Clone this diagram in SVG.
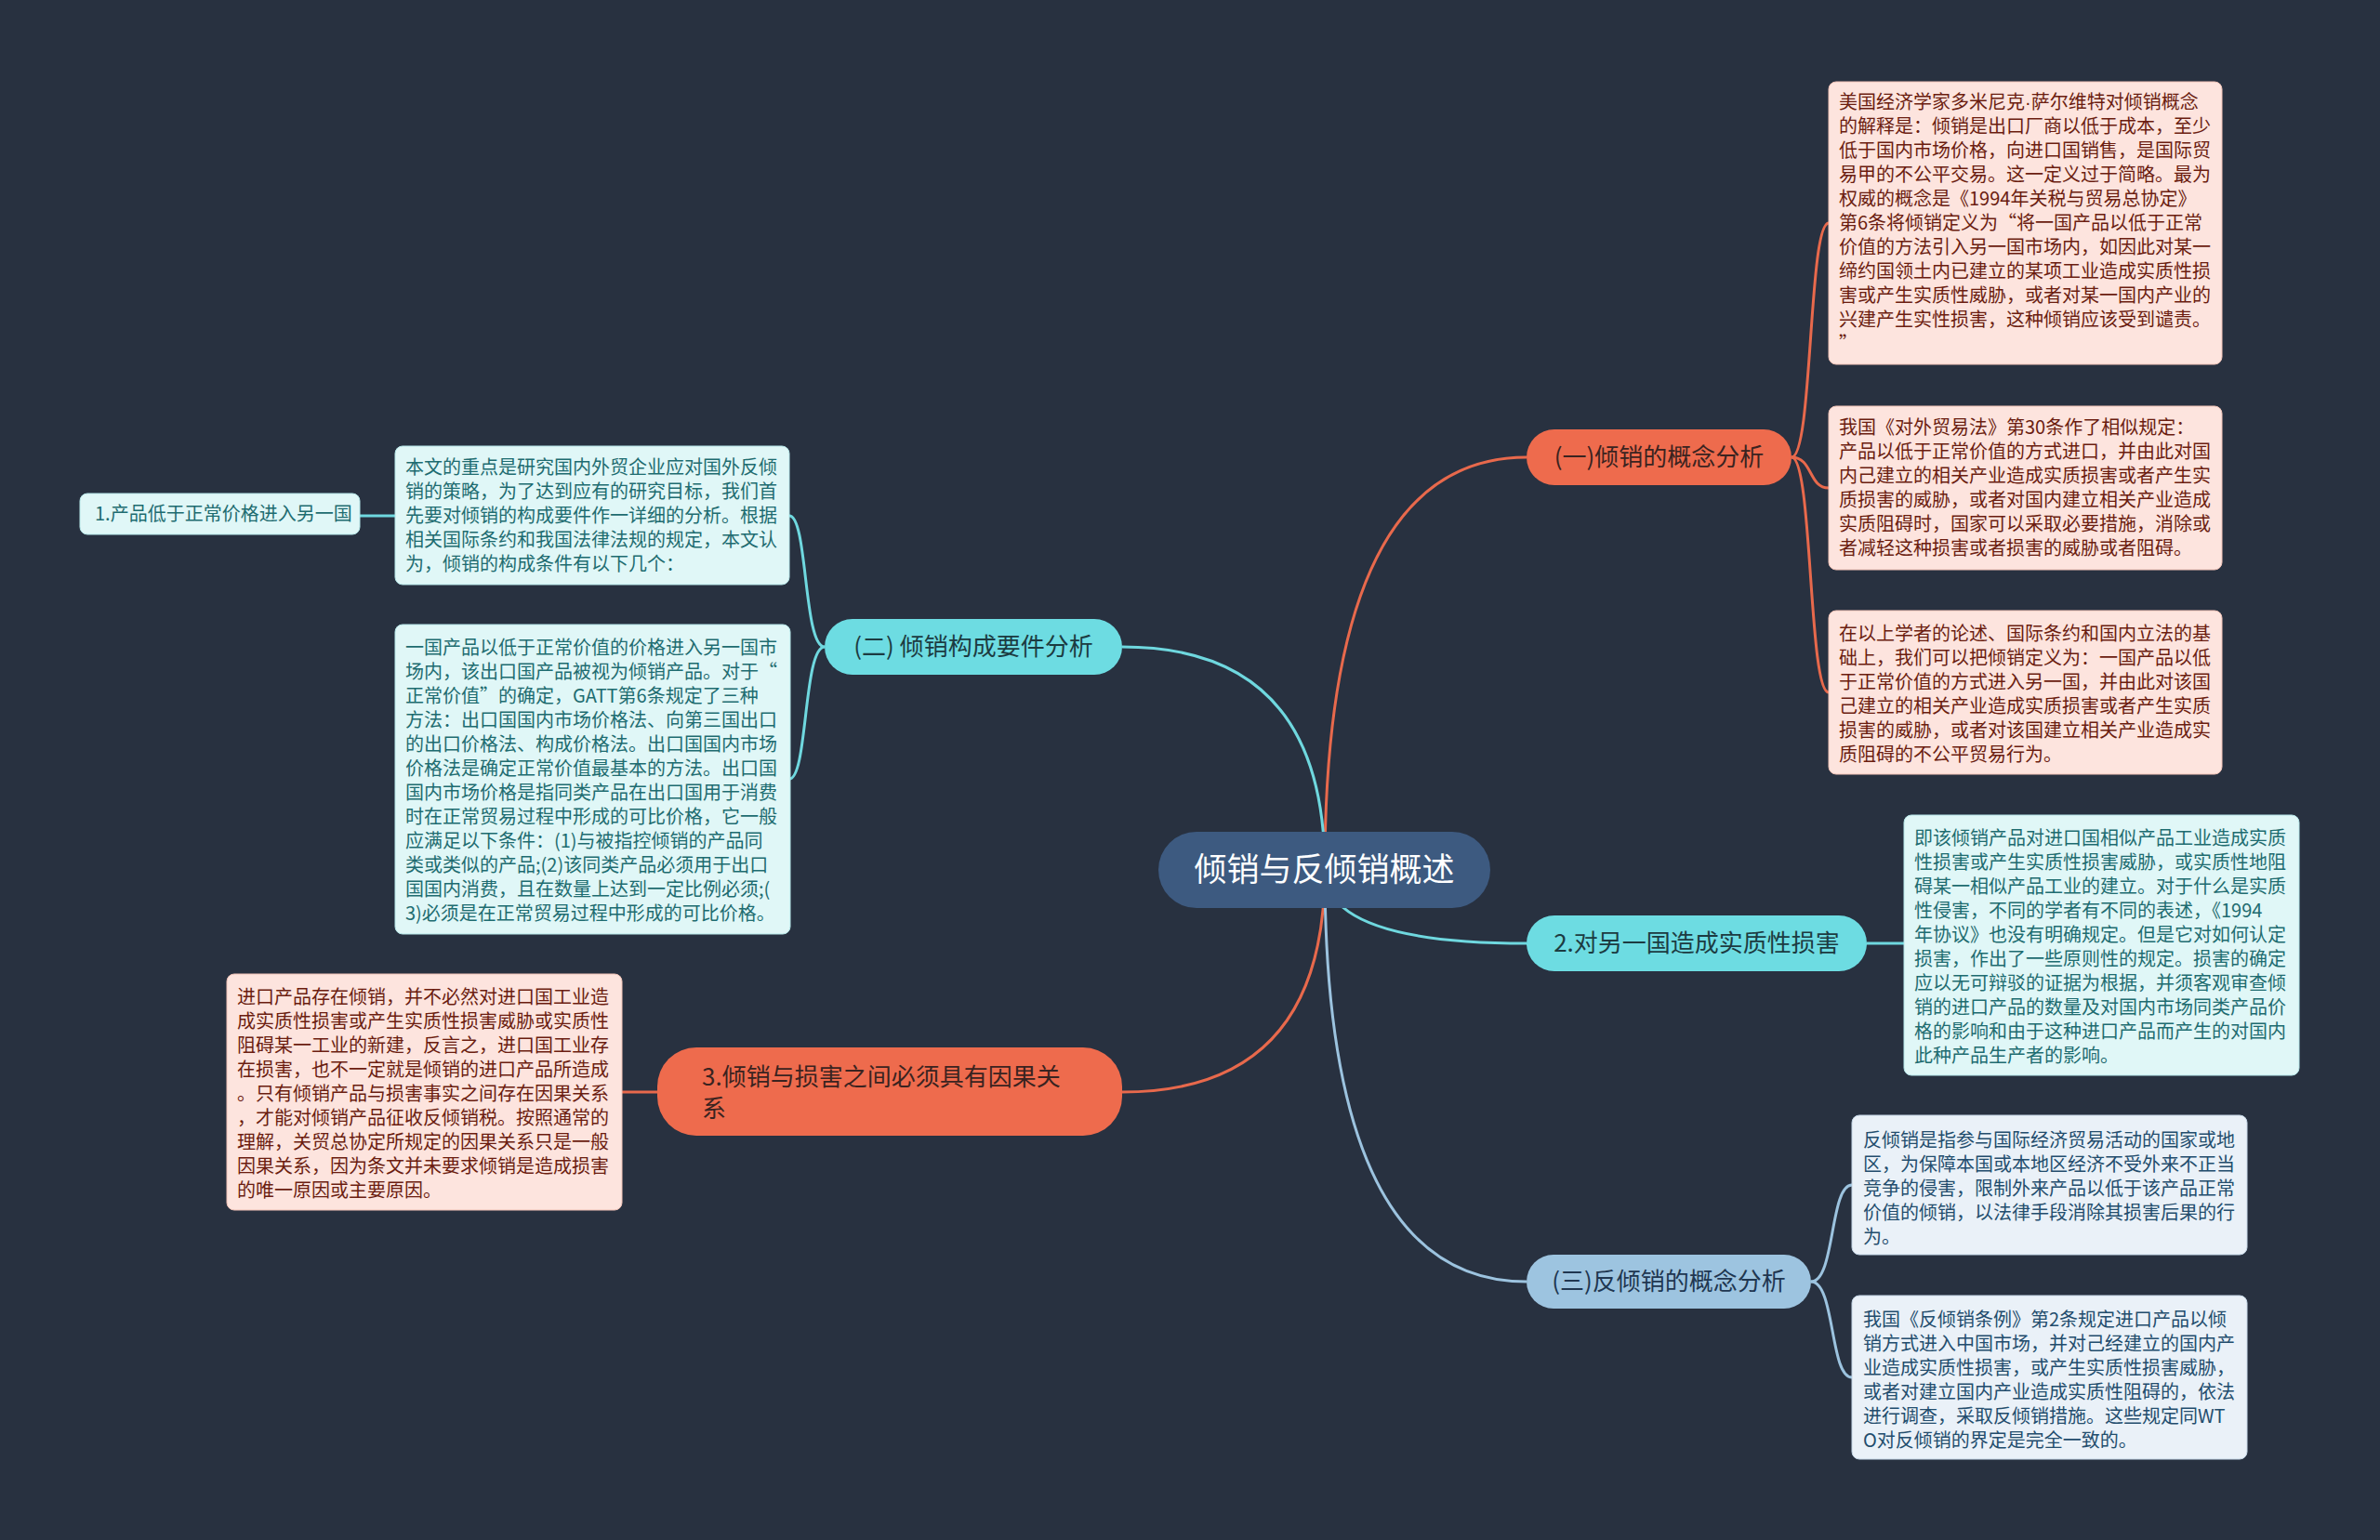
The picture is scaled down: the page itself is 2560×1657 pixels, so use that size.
<svg xmlns="http://www.w3.org/2000/svg" width="2560" height="1657" viewBox="0 0 2560 1657">
<style>
text{font-family:"Noto Sans CJK SC","Noto Sans",sans-serif;}
.latin{font-family:"Liberation Sans","Noto Sans",sans-serif;}
.bg{fill:#283140;}
.pink rect{fill:#fde4de;stroke:#f0c2b6;stroke-width:1;}
.pink text{fill:#6b1d10;font-size:20px;}
.cyan rect{fill:#e0f7f7;stroke:#b5e6e8;stroke-width:1;}
.cyan text{fill:#1e6c70;font-size:20px;}
.blue rect{fill:#eaf1f8;stroke:#c4d6e6;stroke-width:1;}
.blue text{fill:#234d6d;font-size:20px;}
.br text{font-size:26px;}
.or rect{fill:#ee6b4d;}
.or text{fill:#3a2320;}
.cy rect{fill:#6ddce2;}
.cy text{fill:#1c3b41;}
.bl rect{fill:#9dc4e0;}
.bl text{fill:#203650;}
.c-or{fill:none;stroke:#e8694c;stroke-width:3;}
.c-cy{fill:none;stroke:#6fd8df;stroke-width:3;}
.c-bl{fill:none;stroke:#9cc3df;stroke-width:3;}
</style>
<rect class="bg" x="0" y="0" width="2560" height="1657"/>

<g id="connectors">
  <path class="c-or" d="M1425 936 Q1425 492 1642 492"/>
  <path class="c-cy" d="M1425 936 Q1425 696 1207 696"/>
  <path class="c-or" d="M1425 936 Q1425 1175 1207 1175"/>
  <path class="c-cy" d="M1425 936 Q1425 1015 1642 1015"/>
  <path class="c-bl" d="M1425 936 Q1425 1379 1642 1379"/>
  <path class="c-or" d="M1927 492 C1950 492 1945 240 1967 240"/>
  <path class="c-or" d="M1927 492 C1950 492 1945 525 1967 525"/>
  <path class="c-or" d="M1927 492 C1950 492 1945 745 1967 745"/>
  <path class="c-cy" d="M887 696 C864 696 869 555 849 555"/>
  <path class="c-cy" d="M887 696 C864 696 869 838 849 838"/>
  <path class="c-cy" d="M425 555 L387 555"/>
  <path class="c-cy" d="M2008 1015 L2048 1015"/>
  <path class="c-or" d="M707 1175 L669 1175"/>
  <path class="c-bl" d="M1948 1379 C1974 1379 1968 1275 1992 1275"/>
  <path class="c-bl" d="M1948 1379 C1974 1379 1968 1482 1992 1482"/>
</g>

<g id="root">
  <rect x="1246" y="895" width="357" height="82" rx="41" fill="#3d5a80"/>
  <text x="1424.5" y="948" font-size="35" fill="#ffffff" text-anchor="middle">倾销与反倾销概述</text>
</g>

<g id="b1" class="br or">
  <rect x="1642" y="462" width="285" height="60" rx="30"/>
  <text x="1784.5" y="501" text-anchor="middle">(一)倾销的概念分析</text>
</g>
<g id="b2" class="br cy">
  <rect x="887" y="666" width="320" height="60" rx="30"/>
  <text x="1047" y="705" text-anchor="middle">(二) 倾销构成要件分析</text>
</g>
<g id="b3" class="br or">
  <rect x="707" y="1127" width="500" height="95" rx="42"/>
  <text x="755" y="1168">3.倾销与损害之间必须具有因果关</text>
  <text x="755" y="1202">系</text>
</g>
<g id="b4" class="br cy">
  <rect x="1642" y="985" width="366" height="60" rx="30"/>
  <text x="1825" y="1024" text-anchor="middle">2.对另一国造成实质性损害</text>
</g>
<g id="b5" class="br bl">
  <rect x="1642" y="1350" width="306" height="58" rx="29"/>
  <text x="1795" y="1388" text-anchor="middle">(三)反倾销的概念分析</text>
</g>

<g id="n-def1" class="pink">
  <rect x="1967" y="88" width="423" height="304" rx="8"/>
  <text x="1978" y="117">美国经济学家多米尼克<tspan class="latin">·</tspan>萨尔维特对倾销概念</text>
  <text x="1978" y="143">的解释是：倾销是出口厂商以低于成本，至少</text>
  <text x="1978" y="169">低于国内市场价格，向进口国销售，是国际贸</text>
  <text x="1978" y="195">易甲的不公平交易。这一定义过于简略。最为</text>
  <text x="1978" y="221">权威的概念是《1994年关税与贸易总协定》</text>
  <text x="1978" y="247">第6条将倾销定义为“将一国产品以低于正常</text>
  <text x="1978" y="273">价值的方法引入另一国市场内，如因此对某一</text>
  <text x="1978" y="299">缔约国领土内已建立的某项工业造成实质性损</text>
  <text x="1978" y="325">害或产生实质性威胁，或者对某一国内产业的</text>
  <text x="1978" y="351">兴建产生实性损害，这种倾销应该受到谴责。</text>
  <text x="1978" y="377">”</text>
</g>

<g id="n-def2" class="pink">
  <rect x="1967" y="437" width="423" height="176" rx="8"/>
  <text x="1978" y="467">我国《对外贸易法》第30条作了相似规定：</text>
  <text x="1978" y="493">产品以低于正常价值的方式进口，并由此对国</text>
  <text x="1978" y="519">内己建立的相关产业造成实质损害或者产生实</text>
  <text x="1978" y="545">质损害的威胁，或者对国内建立相关产业造成</text>
  <text x="1978" y="571">实质阻碍时，国家可以采取必要措施，消除或</text>
  <text x="1978" y="597">者减轻这种损害或者损害的威胁或者阻碍。</text>
</g>

<g id="n-def3" class="pink">
  <rect x="1967" y="657" width="423" height="176" rx="8"/>
  <text x="1978" y="689">在以上学者的论述、国际条约和国内立法的基</text>
  <text x="1978" y="715">础上，我们可以把倾销定义为：一国产品以低</text>
  <text x="1978" y="741">于正常价值的方式进入另一国，并由此对该国</text>
  <text x="1978" y="767">己建立的相关产业造成实质损害或者产生实质</text>
  <text x="1978" y="793">损害的威胁，或者对该国建立相关产业造成实</text>
  <text x="1978" y="819">质阻碍的不公平贸易行为。</text>
</g>

<g id="n-injury" class="cyan">
  <rect x="2048" y="877" width="425" height="280" rx="8"/>
  <text x="2059" y="909">即该倾销产品对进口国相似产品工业造成实质</text>
  <text x="2059" y="935">性损害或产生实质性损害威胁，或实质性地阻</text>
  <text x="2059" y="961">碍某一相似产品工业的建立。对于什么是实质</text>
  <text x="2059" y="987">性侵害，不同的学者有不同的表述，《1994</text>
  <text x="2059" y="1013">年协议》也没有明确规定。但是它对如何认定</text>
  <text x="2059" y="1039">损害，作出了一些原则性的规定。损害的确定</text>
  <text x="2059" y="1065">应以无可辩驳的证据为根据，并须客观审查倾</text>
  <text x="2059" y="1091">销的进口产品的数量及对国内市场同类产品价</text>
  <text x="2059" y="1117">格的影响和由于这种进口产品而产生的对国内</text>
  <text x="2059" y="1143">此种产品生产者的影响。</text>
</g>

<g id="n-anti1" class="blue">
  <rect x="1992" y="1200" width="425" height="150" rx="8"/>
  <text x="2004" y="1234">反倾销是指参与国际经济贸易活动的国家或地</text>
  <text x="2004" y="1260">区，为保障本国或本地区经济不受外来不正当</text>
  <text x="2004" y="1286">竞争的侵害，限制外来产品以低于该产品正常</text>
  <text x="2004" y="1312">价值的倾销，以法律手段消除其损害后果的行</text>
  <text x="2004" y="1338">为。</text>
</g>

<g id="n-anti2" class="blue">
  <rect x="1992" y="1394" width="425" height="176" rx="8"/>
  <text x="2004" y="1427">我国《反倾销条例》第2条规定进口产品以倾</text>
  <text x="2004" y="1453">销方式进入中国市场，并对己经建立的国内产</text>
  <text x="2004" y="1479">业造成实质性损害，或产生实质性损害威胁，</text>
  <text x="2004" y="1505">或者对建立国内产业造成实质性阻碍的，依法</text>
  <text x="2004" y="1531">进行调查，采取反倾销措施。这些规定同WT</text>
  <text x="2004" y="1557">O对反倾销的界定是完全一致的。</text>
</g>

<g id="n-intro" class="cyan">
  <rect x="425" y="480" width="424" height="149" rx="8"/>
  <text x="436" y="510">本文的重点是研究国内外贸企业应对国外反倾</text>
  <text x="436" y="536">销的策略，为了达到应有的研究目标，我们首</text>
  <text x="436" y="562">先要对倾销的构成要件作一详细的分析。根据</text>
  <text x="436" y="588">相关国际条约和我国法律法规的规定，本文认</text>
  <text x="436" y="614">为，倾销的构成条件有以下几个：</text>
</g>

<g id="n-cond1" class="cyan">
  <rect x="86" y="531" width="301" height="44" rx="8"/>
  <text x="102" y="560">1.产品低于正常价格进入另一国</text>
</g>

<g id="n-price" class="cyan">
  <rect x="425" y="672" width="425" height="333" rx="8"/>
  <text x="436" y="704">一国产品以低于正常价值的价格进入另一国市</text>
  <text x="436" y="730">场内，该出口国产品被视为倾销产品。对于“</text>
  <text x="436" y="756">正常价值”的确定，GATT第6条规定了三种</text>
  <text x="436" y="782">方法：出口国国内市场价格法、向第三国出口</text>
  <text x="436" y="808">的出口价格法、构成价格法。出口国国内市场</text>
  <text x="436" y="834">价格法是确定正常价值最基本的方法。出口国</text>
  <text x="436" y="860">国内市场价格是指同类产品在出口国用于消费</text>
  <text x="436" y="886">时在正常贸易过程中形成的可比价格，它一般</text>
  <text x="436" y="912">应满足以下条件：(1)与被指控倾销的产品同</text>
  <text x="436" y="938">类或类似的产品;(2)该同类产品必须用于出口</text>
  <text x="436" y="964">国国内消费，且在数量上达到一定比例必须;(</text>
  <text x="436" y="990">3)必须是在正常贸易过程中形成的可比价格。</text>
</g>

<g id="n-causal" class="pink">
  <rect x="244" y="1048" width="425" height="254" rx="8"/>
  <text x="255" y="1080">进口产品存在倾销，并不必然对进口国工业造</text>
  <text x="255" y="1106">成实质性损害或产生实质性损害威胁或实质性</text>
  <text x="255" y="1132">阻碍某一工业的新建，反言之，进口国工业存</text>
  <text x="255" y="1158">在损害，也不一定就是倾销的进口产品所造成</text>
  <text x="255" y="1184">。只有倾销产品与损害事实之间存在因果关系</text>
  <text x="255" y="1210">，才能对倾销产品征收反倾销税。按照通常的</text>
  <text x="255" y="1236">理解，关贸总协定所规定的因果关系只是一般</text>
  <text x="255" y="1262">因果关系，因为条文并未要求倾销是造成损害</text>
  <text x="255" y="1288">的唯一原因或主要原因。</text>
</g>
</svg>
